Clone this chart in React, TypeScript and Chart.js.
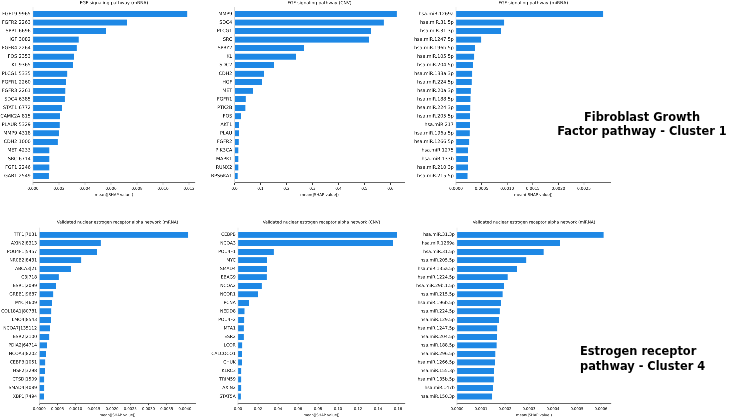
import React, { useEffect, useRef } from "react";
import { Chart, registerables } from "chart.js";
Chart.register(...registerables);

// ---------- DATA ----------
const fgfMrnaLabels = ["FGF19|9965", "FGFR2|2263", "SPP1|6696", "HGF|3082", "FGFR4|2264", "FOS|2353", "KL|9365", "PLCG1|5335", "FGFR1|2260", "FGFR3|2261", "SDC4|6385", "STAT1|6772", "CAMK2A|815", "PLAUR|5329", "MMP9|4318", "CDH2|1000", "MET|4233", "SRC|6714", "FGF1|2246", "GAB1|2549"];
const fgfMrnaValues = [0.01187, 0.00723, 0.00562, 0.00351, 0.00336, 0.00315, 0.00308, 0.00264, 0.00254, 0.00249, 0.00244, 0.00223, 0.00208, 0.00205, 0.00198, 0.0019, 0.00126, 0.00126, 0.00126, 0.00121];
const fgfMrnaTicks = [0, 0.002, 0.004, 0.006, 0.008, 0.01, 0.012];

const fgfCnvLabels = ["MMP9", "SDC4", "PLCG1", "SRC", "SPRY2", "KL", "SDC2", "CDH2", "HGF", "MET", "FGFR1", "PTK2B", "FOS", "AKT1", "PLAU", "FGFR2", "PIK3CA", "MAPK1", "RUNX2", "RPS6KA1"];
const fgfCnvValues = [0.624, 0.574, 0.526, 0.517, 0.268, 0.237, 0.151, 0.113, 0.105, 0.071, 0.043, 0.042, 0.025, 0.018, 0.017, 0.016, 0.015, 0.015, 0.015, 0.012];
const fgfCnvTicks = [0, 0.1, 0.2, 0.3, 0.4, 0.5, 0.6];

const fgfMirLabels = ["hsa.miR.1269a", "hsa.miR.31.5p", "hsa.miR.31.3p", "hsa.miR.1247.5p", "hsa.miR.196b.5p", "hsa.miR.105.5p", "hsa.miR.204.5p", "hsa.miR.133a.3p", "hsa.miR.224.5p", "hsa.miR.20a.3p", "hsa.miR.188.5p", "hsa.miR.224.3p", "hsa.miR.205.5p", "hsa.miR.217", "hsa.miR.196a.5p", "hsa.miR.1266.5p", "hsa.miR.1275", "hsa.miR.133b", "hsa.miR.210.3p", "hsa.miR.215.5p"];
const fgfMirValues = [0.002877, 0.000943, 0.00088, 0.000494, 0.000371, 0.000357, 0.000332, 0.000318, 0.000306, 0.000287, 0.000283, 0.00028, 0.000273, 0.000273, 0.000267, 0.00026, 0.000234, 0.000234, 0.000232, 0.000225];
const fgfMirTicks = [0, 0.0005, 0.001, 0.0015, 0.002, 0.0025];

const erMrnaLabels = ["TFF1|7031", "AXIN2|8313", "POU4F1|5457", "NR0B2|8431", "ABCA3|21", "C3|718", "ESR1|2099", "GREB1|9687", "MYC|4609", "COL18A1|80781", "LMO4|8543", "NCOA7|135112", "ESR2|2100", "PDIA2|64714", "NCOA3|8202", "CEBPB|1051", "HSF2|3298", "CTSD|1509", "SMAD4|4089", "XBP1|7494"];
const erMrnaValues = [0.004093, 0.001687, 0.001585, 0.001154, 0.000871, 0.000533, 0.000459, 0.000385, 0.000349, 0.00033, 0.000321, 0.000294, 0.000275, 0.000212, 0.000184, 0.000165, 0.000157, 0.000137, 0.000137, 0.000129];
const erMrnaTicks = [0, 0.0005, 0.001, 0.0015, 0.002, 0.0025, 0.003, 0.0035, 0.004];

const erCnvLabels = ["CEBPB", "NCOA3", "POU4F1", "MYC", "SMAD4", "EBAG9", "NCOA2", "NCOR1", "PCNA", "NEDD8", "POU4F2", "MTA1", "ESR2", "LCOR", "CALCOCO1", "CHUK", "KLRC3", "TRIM59", "AXIN2", "STAT5A"];
const erCnvValues = [0.159, 0.155, 0.0357, 0.029, 0.029, 0.0287, 0.0237, 0.02, 0.011, 0.0065, 0.0063, 0.0057, 0.0057, 0.0043, 0.004, 0.004, 0.0033, 0.0033, 0.0033, 0.0027];
const erCnvTicks = [0, 0.02, 0.04, 0.06, 0.08, 0.1, 0.12, 0.14, 0.16];

const erMirLabels = ["hsa.miR.31.3p", "hsa.miR.1269a", "hsa.miR.31.5p", "hsa.miR.205.5p", "hsa.miR.135a.5p", "hsa.miR.1224.5p", "hsa.miR.29b.1.5p", "hsa.miR.215.5p", "hsa.miR.196b.5p", "hsa.miR.224.5p", "hsa.miR.129.5p", "hsa.miR.1247.5p", "hsa.miR.204.5p", "hsa.miR.188.5p", "hsa.miR.296.5p", "hsa.miR.1266.5p", "hsa.miR.155.3p", "hsa.miR.135b.5p", "hsa.miR.147b", "hsa.miR.150.3p"];
const erMirValues = [0.000611, 0.00043, 0.000361, 0.000289, 0.000251, 0.000211, 0.000196, 0.00019, 0.000183, 0.000178, 0.000176, 0.000168, 0.000167, 0.000165, 0.00016, 0.000158, 0.000155, 0.000153, 0.000149, 0.000147];
const erMirTicks = [0, 0.0001, 0.0002, 0.0003, 0.0004, 0.0005, 0.0006];

const X_TITLE = "mean(|SHAP value|)";
const FONT = "'DejaVu Sans', sans-serif";
const BAR_COLOR = "#1E88E5";
const TEXT_COLOR = "#0a0a0a";

type Row = {
  top: number; height: number; titlePadTop: number; titlePadBottom: number; xAxisH: number; xTitlePadBottom: number;
  titleSize: number; labelSize: number; tickSize: number; xTitleSize: number;
};
const TOP_ROW: Row = { top: 0, height: 200, titlePadTop: 0.4, titlePadBottom: 1.5, xAxisH: 17.2, xTitlePadBottom: 2.8, titleSize: 4.4, labelSize: 4.7, tickSize: 3.9, xTitleSize: 3.85 };
const BOTTOM_ROW: Row = { top: 215, height: 203, titlePadTop: 5.1, titlePadBottom: 2.9, xAxisH: 14.7, xTitlePadBottom: 0.6, titleSize: 4.1, labelSize: 4.4, tickSize: 3.7, xTitleSize: 3.6 };

type PanelProps = {
  title: string;
  labels: string[];
  values: number[];
  ticks: number[];
  decimals: number;
  xMax: number;
  canvasLeft: number;
  origin: number;
  right: number;
  row: Row;
};

function Panel(p: PanelProps) {
  const ref = useRef<HTMLCanvasElement>(null);
  const padRight = 8;
  const width = Math.round(p.right + padRight - p.canvasLeft);
  const height = p.row.height;
  useEffect(() => {
    if (!ref.current) return;
    const yW = p.origin - p.canvasLeft;
    const chart = new Chart(ref.current, {
      type: "bar",
      data: {
        datasets: [
          {
            data: p.values.map((v, i) => ({ x: v, y: i })),
            backgroundColor: BAR_COLOR,
            borderWidth: 0,
            barPercentage: 0.7,
            categoryPercentage: 1,
          },
        ],
      },
      options: {
        indexAxis: "y",
        animation: false,
        responsive: false,
        maintainAspectRatio: false,
        devicePixelRatio: 4,
        layout: { padding: { left: 0, right: width - (p.right - p.canvasLeft), top: 0, bottom: 0 } },
        plugins: {
          legend: { display: false },
          tooltip: { enabled: false },
          title: {
            display: true,
            text: p.title,
            fullSize: false,
            color: TEXT_COLOR,
            font: { family: FONT, size: p.row.titleSize, weight: "normal", lineHeight: 1.2 },
            padding: { top: p.row.titlePadTop, bottom: p.row.titlePadBottom },
          },
        },
        scales: {
          x: {
            type: "linear",
            min: 0,
            max: p.xMax,
            offset: false,
            afterBuildTicks: (s: any) => {
              s.ticks = p.ticks.map((v) => ({ value: v }));
            },
            afterFit: (s: any) => {
              s.height = p.row.xAxisH;
            },
            ticks: {
              callback: (v: any) => Number(v).toFixed(p.decimals),
              font: { family: FONT, size: p.row.tickSize },
              color: TEXT_COLOR,
              padding: 1.5,
              maxRotation: 0,
              autoSkip: false,
            },
            grid: { display: true, drawOnChartArea: false, drawTicks: true, tickLength: 2, color: "#333", lineWidth: 0.6 },
            border: { display: true, color: "#333", width: 0.7 },
            title: {
              display: true,
              text: X_TITLE,
              color: TEXT_COLOR,
              font: { family: FONT, size: p.row.xTitleSize, lineHeight: 1.2 },
              padding: { top: 0, bottom: p.row.xTitlePadBottom },
            },
          },
          y: {
            type: "linear",
            reverse: true,
            offset: false,
            min: -0.8,
            max: p.labels.length - 0.2,
            afterBuildTicks: (s: any) => {
              s.ticks = p.labels.map((_, i) => ({ value: i }));
            },
            afterFit: (s: any) => {
              s.width = yW;
            },
            ticks: {
              callback: (v: any) => p.labels[Math.round(Number(v))],
              font: { family: FONT, size: p.row.labelSize },
              color: TEXT_COLOR,
              padding: 2.3,
              autoSkip: false,
            },
            grid: { display: false, drawTicks: false, tickLength: 0 },
            border: { display: true, color: "#d8d8d8", width: 0.7 },
          },
        },
      } as any,
    });
    return () => chart.destroy();
  }, []);
  return (
    <canvas
      ref={ref}
      width={width}
      height={height}
      style={{ position: "absolute", left: p.canvasLeft, top: p.row.top, width, height }}
    />
  );
}

const annoStyle: React.CSSProperties = {
  position: "absolute",
  fontFamily: "'DejaVu Sans', sans-serif",
  fontWeight: "bold",
  fontSize: 11.4,
  lineHeight: "14px",
  color: "#000",
  whiteSpace: "nowrap",
};

export default function App() {
  return (
    <div style={{ position: "fixed", left: 0, top: 0, width: 729, height: 418, background: "#fff", overflow: "hidden" }}>
      <Panel title="FGF signaling pathway (mRNA)" labels={fgfMrnaLabels} values={fgfMrnaValues} ticks={fgfMrnaTicks} decimals={3} xMax={0.01246} canvasLeft={0} origin={33} right={195} row={TOP_ROW} />
      <Panel title="FGF signaling pathway (CNV)" labels={fgfCnvLabels} values={fgfCnvValues} ticks={fgfCnvTicks} decimals={1} xMax={0.654} canvasLeft={200} origin={234.5} right={404.5} row={TOP_ROW} />
      <Panel title="FGF signaling pathway (miRNA)" labels={fgfMirLabels} values={fgfMirValues} ticks={fgfMirTicks} decimals={4} xMax={0.00302} canvasLeft={405} origin={456} right={610.6} row={TOP_ROW} />
      <Panel title="Validated nuclear estrogen receptor alpha network (mRNA)" labels={erMrnaLabels} values={erMrnaValues} ticks={erMrnaTicks} decimals={4} xMax={0.0043} canvasLeft={0} origin={39.3} right={195.8} row={BOTTOM_ROW} />
      <Panel title="Validated nuclear estrogen receptor alpha network (CNV)" labels={erCnvLabels} values={erCnvValues} ticks={erCnvTicks} decimals={2} xMax={0.167} canvasLeft={198} origin={238} right={405} row={BOTTOM_ROW} />
      <Panel title="Validated nuclear estrogen receptor alpha network (miRNA)" labels={erMirLabels} values={erMirValues} ticks={erMirTicks} decimals={4} xMax={0.000642} canvasLeft={405} origin={457} right={611} row={BOTTOM_ROW} />
      <div style={{ ...annoStyle, left: 642, top: 109.7, transform: "translateX(-50%)", textAlign: "center" }}>Fibroblast Growth</div>
      <div style={{ ...annoStyle, left: 642, top: 124, transform: "translateX(-50%)", textAlign: "center" }}>Factor pathway - Cluster 1</div>
      <div style={{ ...annoStyle, left: 580, top: 343.7 }}>Estrogen receptor</div>
      <div style={{ ...annoStyle, left: 580, top: 358.7 }}>pathway - Cluster 4</div>
    </div>
  );
}
